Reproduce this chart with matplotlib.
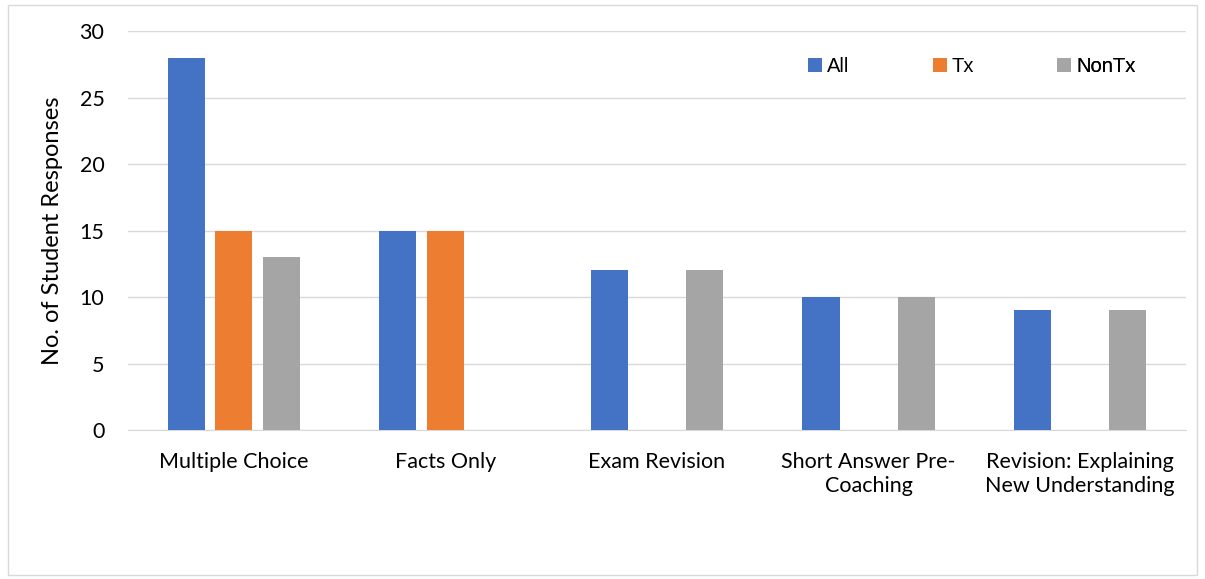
import numpy as np
import matplotlib.pyplot as plt
from matplotlib.patches import Rectangle

categories = ["Multiple Choice", "Facts Only", "Exam Revision",
              "Short Answer Pre-\nCoaching", "Revision: Explaining\nNew Understanding"]
all_vals = [28, 15, 12, 10, 9]
tx_vals = [15, 15, 0, 0, 0]
nontx_vals = [13, 0, 12, 10, 9]
series_names = ["All", "Tx", "NonTx"]
colors = ["#4472C4", "#ED7D31", "#A5A5A5"]

plt.rcParams['font.family'] = ['Lato', 'DejaVu Sans']

fig = plt.figure(figsize=(12.05, 5.79), dpi=100)
ax = fig.add_axes([128 / 1205, 1 - 430 / 579, (1186 - 128) / 1205, (430 - 31) / 579])

x = np.arange(len(categories))
width = 0.175
offset = 0.225
bars = []
for i, (vals, name, c) in enumerate(zip([all_vals, tx_vals, nontx_vals], series_names, colors)):
    bars.append(ax.bar(x + (i - 1) * offset, vals, width, color=c, label=name, zorder=3))

ax.set_xlim(-0.5, len(categories) - 0.5)
ax.set_ylim(0, 30)
ax.set_yticks(range(0, 31, 5))
ax.grid(axis='y', color='#D9D9D9', linewidth=1, zorder=0)
for s in ['top', 'right', 'left']:
    ax.spines[s].set_visible(False)
ax.spines['bottom'].set_color('#D9D9D9')
ax.tick_params(axis='both', length=0, labelsize=15.5, colors='#000000')
ax.tick_params(axis='y', pad=17)
ax.tick_params(axis='x', pad=16)
ax.set_xticks(x)
ax.set_xticklabels(categories, linespacing=1.25)
ax.set_ylabel("No. of Student Responses", fontsize=17, labelpad=12)

# one legend per entry so the entries sit at equal spacing, like Excel
for i, (b, name) in enumerate(zip(bars, series_names)):
    lg = ax.legend([b], [name], loc='center left',
                   bbox_to_anchor=(0.643 + i * 0.1175, 0.91), frameon=False,
                   prop={'family': 'Liberation Sans', 'size': 14.5},
                   handlelength=0.7, handleheight=0.7, handletextpad=0.25,
                   borderpad=0, borderaxespad=0)
    ax.add_artist(lg)

fig.patches.append(Rectangle((8 / 1205, 4 / 579), 1189 / 1205, 570 / 579,
                             transform=fig.transFigure, fill=False,
                             edgecolor='#D9D9D9', linewidth=1))

fig.savefig("out.png", dpi=100)
